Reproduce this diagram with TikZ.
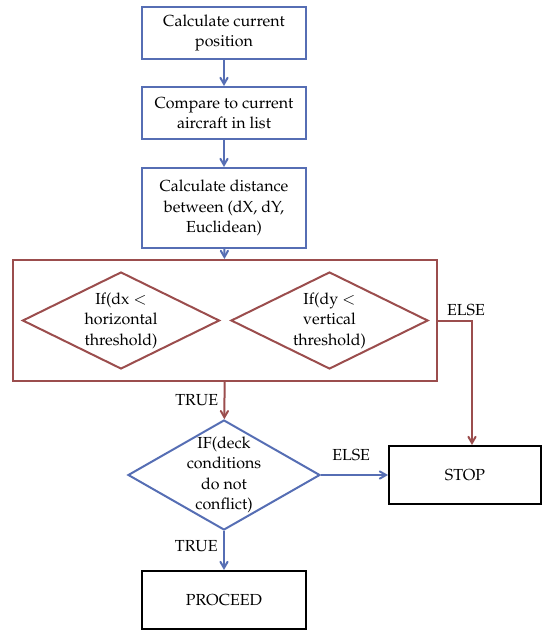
\documentclass[tikz,border=0pt]{standalone}
\usepackage[T1]{fontenc}
\usepackage{mathpazo}
\usepackage{tikz}
\usetikzlibrary{shapes.geometric, arrows}

\definecolor{flowblue}{RGB}{86,110,180}
\definecolor{flowred}{RGB}{155,77,77}

\begin{document}
\begin{tikzpicture}[x=1pt, y=-1pt,
            every node/.style={font=\fontsize{16}{20.5}\selectfont, align=center}, % Text for all nodes
            process/.style={rectangle, draw=flowblue, line width=2pt, minimum width=164pt}, % Blue step boxes
            check/.style={diamond, draw=flowred, line width=2pt, aspect=2, inner xsep=-8pt, inner ysep=-4pt, minimum width=197pt, minimum height=97pt}, % Threshold tests
            deckcheck/.style={diamond, draw=flowblue, line width=2pt, aspect=1.75, inner xsep=-12pt, inner ysep=-6pt, minimum width=192pt, minimum height=110pt}, % Deck test
            result/.style={rectangle, draw=black, line width=2pt}, % End boxes
            flow/.style={->, >=angle 60, draw=flowblue, line width=2pt}, % Blue arrows
            redflow/.style={->, >=angle 60, draw=flowred, line width=2pt} % Red arrows
            ]

                \useasboundingbox (0,0) rectangle (543,630);

                % Steps down the left column
                \node[process, minimum height=52pt] (calc) at (224,33) {Calculate current\\position};
                \node[process, minimum height=52pt] (cmp) at (224,113) {Compare to current\\aircraft in list};
                \node[process, minimum height=80pt] (dist) at (224,208) {Calculate distance\\between (dX, dY,\\Euclidean)};

                % Threshold group with both tests
                \node[rectangle, draw=flowred, line width=2pt, minimum width=424pt, minimum height=121pt] (group) at (225,320.5) {};
                \node[check] (dx) at (121,320.5) {If(dx $<$\\horizontal\\threshold)};
                \node[check] (dy) at (329.5,320.5) {If(dy $<$\\vertical\\threshold)};

                \node[deckcheck] (deck) at (224,475) {IF(deck\\conditions\\do not\\conflict)};
                \node[result, minimum width=152pt, minimum height=58pt] (stop) at (465,475) {STOP};
                \node[result, minimum width=164pt, minimum height=58pt] (proceed) at (224,600) {PROCEED};

                \draw[flow] (calc) -- (cmp);
                \draw[flow] (cmp) -- (dist);
                \draw[flow] (dist) -- (group);
                \draw[redflow] (group) -- node[left, xshift=-2pt] {TRUE} (deck);
                \draw[redflow] (group.east) -| node[pos=0.5, above, xshift=-6pt] {ELSE} (stop.north -| 472,0);
                \draw[flow] (deck) -- node[above, pos=0.45, yshift=10pt] {ELSE} (stop);
                \draw[flow] (deck) -- node[left, pos=0.4, xshift=-2pt] {TRUE} (proceed);

            \end{tikzpicture}
\end{document}
